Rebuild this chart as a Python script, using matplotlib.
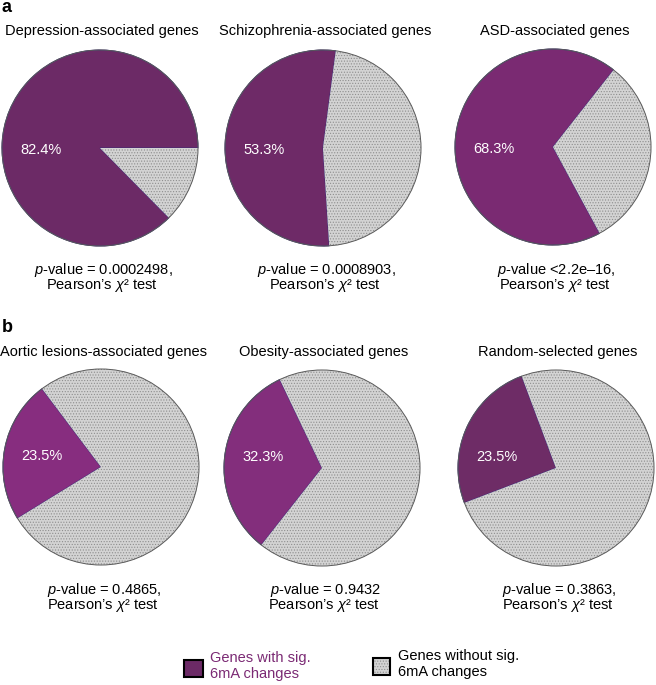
import matplotlib
matplotlib.use("Agg")
import matplotlib.pyplot as plt
from matplotlib.patches import Circle, Rectangle

plt.rcParams["font.family"] = ["Liberation Sans", "DejaVu Sans"]
plt.rcParams["mathtext.fontset"] = "custom"
plt.rcParams["mathtext.rm"] = "Liberation Sans"
plt.rcParams["mathtext.it"] = "Liberation Sans:italic"
plt.rcParams["hatch.color"] = "#8e8e8e"
plt.rcParams["hatch.linewidth"] = 0.5

# ---- data ----
titles = ["Depression-associated genes", "Schizophrenia-associated genes", "ASD-associated genes",
          "Aortic lesions-associated genes", "Obesity-associated genes", "Random-selected genes"]
pct_labels = ["82.4%", "53.3%", "68.3%", "23.5%", "32.3%", "23.5%"]
# share of the circle drawn as the purple wedge (as it appears in the picture)
sig_share = [87.4, 53.1, 68.5, 23.5, 32.3, 25.1]
start_angles = [0, 82.5, 51.8, 127, 115.5, 110.5]
pvalues = ["= 0.0002498,", "= 0.0008903,", "<2.2e\u201316,", "= 0.4865,", "= 0.9432", "= 0.3863,"]
purples = ["#6c2a66", "#6e2a67", "#7a2a72", "#872d7f", "#832e7c", "#6e2c66"]
grey = "#d3d3d3"

W, H = 656, 685
fig = plt.figure(figsize=(W / 100, H / 100), dpi=100)


def fx(x):
    return x / W


def fy(y):
    return 1 - y / H


centers = [(100, 148), (323, 148), (553, 147), (101, 467), (322, 468), (556, 468)]
r = 99
label_dy = [-0.02, -0.02, -0.02, 0.11, 0.11, 0.11]

for i in range(6):
    cx, cy = centers[i]
    ax = fig.add_axes([fx(cx - r), fy(cy + r), 2 * r / W, 2 * r / H])
    wedges, _ = ax.pie([sig_share[i], 100 - sig_share[i]], colors=[purples[i], grey],
                       startangle=start_angles[i], counterclock=True, hatch=["", "......"],
                       wedgeprops=dict(linewidth=0))
    wedges[0].set_edgecolor("#3c2a78")
    wedges[0].set_linewidth(0.7)
    ax.add_patch(Circle((0, 0), 1, fill=False, edgecolor="#5a5a5a", linewidth=0.7))
    ax.set_xlim(-1.01, 1.01)
    ax.set_ylim(-1.01, 1.01)
    ax.set_aspect("equal")
    ax.axis("off")
    ax.text(-0.6, label_dy[i], pct_labels[i], color="white", fontsize=10.5,
            ha="center", va="center")

    # title and test result
    ty = 31 if i < 3 else 352
    fig.text(fx(cx + 2), fy(ty), titles[i], fontsize=10.5, ha="center", va="center")
    py = 270 if i < 3 else 590
    fig.text(fx(cx + 3), fy(py), r"$p$-value " + pvalues[i], fontsize=10.5,
             ha="center", va="center")
    fig.text(fx(cx + 2), fy(py + 16), "Pearson\u2019s $\\chi$\u00b2 test", fontsize=10.5,
             ha="center", va="center")

fig.text(fx(2), fy(7), "a", fontsize=13, fontweight="bold", ha="left", va="center")
fig.text(fx(2), fy(327), "b", fontsize=13, fontweight="bold", ha="left", va="center")

# legend
fig.add_artist(Rectangle((fx(184), fy(677)), 19 / W, 17 / H, transform=fig.transFigure,
                         facecolor="#6c2a66", edgecolor="black", linewidth=1.5))
fig.text(fx(210), fy(666), "Genes with sig.\n6mA changes", color="#7b2a74", fontsize=10.5,
         ha="left", va="center", linespacing=1.2)
fig.add_artist(Rectangle((fx(373), fy(675)), 17 / W, 17 / H, transform=fig.transFigure,
                         facecolor=grey, hatch="......", linewidth=0))
fig.add_artist(Rectangle((fx(373), fy(675)), 17 / W, 17 / H, transform=fig.transFigure,
                         fill=False, edgecolor="black", linewidth=1.5))
fig.text(fx(398), fy(664), "Genes without sig.\n6mA changes", color="black", fontsize=10.5,
         ha="left", va="center", linespacing=1.2)

fig.savefig("out.png", dpi=100)
